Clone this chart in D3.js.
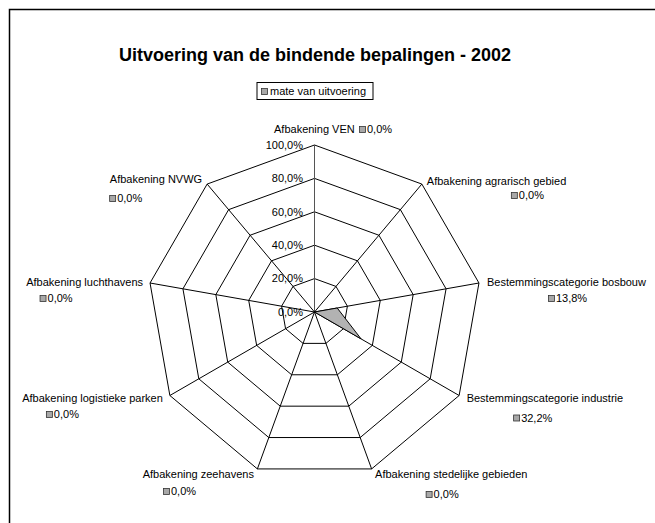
<!DOCTYPE html>
<html><head><meta charset="utf-8">
<script src="https://cdn.jsdelivr.net/npm/d3@7"></script>
<style>html,body{margin:0;padding:0;background:#fff;}svg{display:block;font-family:"Liberation Sans",Arial,sans-serif;}</style>
</head><body>
<script>
const title = "Uitvoering van de bindende bepalingen - 2002";
const seriesName = "mate van uitvoering";
const categories = [
  "Afbakening VEN",
  "Afbakening agrarisch gebied",
  "Bestemmingscategorie bosbouw",
  "Bestemmingscategorie industrie",
  "Afbakening stedelijke gebieden",
  "Afbakening zeehavens",
  "Afbakening logistieke parken",
  "Afbakening luchthavens",
  "Afbakening NVWG"
];
const values = [0, 0, 13.8, 32.2, 0, 0, 0, 0, 0];
const ticks = [0, 20, 40, 60, 80, 100];

// label offsets relative to each axis end: [nameDx, nameDy, anchor, swatchDx, valueDy]
const labelLayout = [
  [-40.5, -12, "start", 44.5, -12],
  [5, 1, "start", 89, 15],
  [8, 3, "start", 69, 19],
  [7.5, 6, "start", 54, 26],
  [3.5, 9, "start", 54, 29],
  [-3.4, 9, "end", -94.4, 26],
  [-7, 6.5, "end", -124, 22.5],
  [-7, 3, "end", -110.5, 19],
  [-5, -1, "end", -98, 18]
];

const W = 655, H = 523;
const cx = 314.5, cy = 312, R = 167;
const fmt = v => v.toFixed(1).replace(".", ",") + "%";

const svg = d3.select("body").append("svg").attr("width", W).attr("height", H);

// chart border
svg.append("rect").attr("x", 9.5).attr("y", 9.5).attr("width", W + 20).attr("height", H + 20)
  .attr("fill", "#fff").attr("stroke", "#000").attr("stroke-width", 1.5);

svg.append("text").attr("x", 315).attr("y", 61).attr("text-anchor", "middle")
  .attr("font-size", 18).attr("font-weight", "bold").text(title);

// legend
const lg = svg.append("g");
lg.append("rect").attr("x", 257).attr("y", 82.5).attr("width", 116).attr("height", 17)
  .attr("fill", "#fff").attr("stroke", "#000").attr("stroke-width", 1);
lg.append("rect").attr("x", 261.5).attr("y", 88.5).attr("width", 6).attr("height", 6)
  .attr("fill", "#a8a8a8").attr("stroke", "#333").attr("stroke-width", 0.8);
lg.append("text").attr("x", 270).attr("y", 94.5).attr("font-size", 11).text(seriesName);

const r = d3.scaleLinear().domain([0, 100]).range([0, R]);
const ang = d3.scaleLinear().domain([0, categories.length]).range([0, 2 * Math.PI]);
const pt = (i, v) => [cx + r(v) * Math.sin(ang(i)), cy - r(v) * Math.cos(ang(i))];

const g = svg.append("g");
// rings
ticks.filter(t => t > 0).forEach(t => {
  g.append("path")
    .attr("d", d3.line()(categories.map((c, i) => pt(i, t))) + "Z")
    .attr("fill", "none").attr("stroke", "#000").attr("stroke-width", 1);
});
// spokes
categories.forEach((c, i) => {
  const [x, y] = pt(i, 100);
  g.append("line").attr("x1", cx).attr("y1", cy).attr("x2", x).attr("y2", y)
    .attr("stroke", i === 0 ? "#555" : "#000").attr("stroke-width", 1);
});

// data polygon
g.append("path")
  .attr("d", d3.line()(values.map((v, i) => pt(i, v))) + "Z")
  .attr("fill", "#b2b2b2").attr("stroke", "#000").attr("stroke-width", 1).attr("stroke-linejoin", "miter");

// tick labels
ticks.forEach(t => {
  svg.append("text").attr("x", cx - 11.5).attr("y", cy - r(t)).attr("dy", "0.35em")
    .attr("text-anchor", "end").attr("font-size", 11).attr("fill", "#000").text(fmt(t));
});

// category labels
categories.forEach((c, i) => {
  const [vx, vy] = pt(i, 100);
  const L = labelLayout[i];
  svg.append("text").attr("x", vx + L[0]).attr("y", vy + L[1]).attr("text-anchor", L[2])
    .attr("font-size", 11).text(c);
  const sx = vx + L[3], sy = vy + L[4];
  svg.append("rect").attr("x", sx + 0.5).attr("y", sy - 6.5).attr("width", 6).attr("height", 6)
    .attr("fill", "#a8a8a8").attr("stroke", "#333").attr("stroke-width", 0.8);
  svg.append("text").attr("x", sx + 8).attr("y", sy).attr("font-size", 11).text(fmt(values[i]));
});
</script>
</body></html>
